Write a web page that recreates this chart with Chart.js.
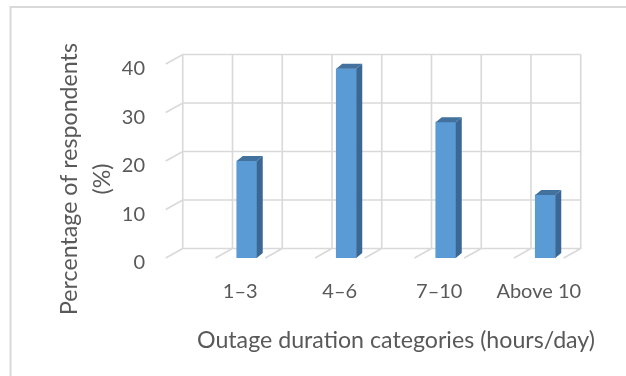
<!DOCTYPE html>
<html>
<head>
<meta charset="utf-8">
<script src="https://cdn.jsdelivr.net/npm/chart.js@4.4.0/dist/chart.umd.min.js"></script>
<style>
  body { margin: 0; background: #fff; }
  #wrap { width: 626px; height: 376px; }
</style>
</head>
<body>
<div id="wrap"><canvas id="myChart" width="626" height="376"></canvas></div>
<script>
// data
var categories = ['1–3', '4–6', '7–10', 'Above 10'];
var respondents = [20, 39, 28, 13];
var yTicks = [0, 10, 20, 30, 40];
var xTitle = 'Outage duration categories (hours/day)';
var yTitle = ['Percentage of respondents', '(%)'];

var gridColor = '#D9D9D9';
var textColor = '#595959';
var fontName = 'Lato';

// offset of the back wall from the front plane
var depthX = 17, depthY = -9.5;

// walls, floor and the frame round the chart
var wallsPlugin = {
    id: 'walls',
    beforeDraw: function(chart) {
        var ctx = chart.ctx;
        ctx.save();
        ctx.fillStyle = '#fff';
        ctx.fillRect(0, 0, chart.width, chart.height);
        ctx.strokeStyle = gridColor;
        ctx.lineWidth = 2;
        ctx.beginPath();
        ctx.moveTo(10.5, chart.height);
        ctx.lineTo(10.5, 7);
        ctx.lineTo(chart.width, 7);
        ctx.stroke();
        ctx.restore();
    },
    beforeDatasetsDraw: function(chart) {
        var ctx = chart.ctx;
        var x = chart.scales.x, y = chart.scales.y;
        var catW = x.getPixelForValue(1) - x.getPixelForValue(0);
        var left = x.getPixelForValue(0) - 64;
        var nCols = categories.length * 2;
        var right = left + nCols * catW / 2;
        var top = y.getPixelForValue(yTicks[yTicks.length - 1]) + depthY;
        var floor = y.getPixelForValue(0) + depthY;
        ctx.save();
        ctx.strokeStyle = gridColor;
        ctx.lineWidth = 1.6;
        ctx.beginPath();
        // horizontal lines on the back wall + side ticks
        yTicks.forEach(function(v) {
            var yb = y.getPixelForValue(v) + depthY;
            ctx.moveTo(left - depthX, yb - depthY);
            ctx.lineTo(left, yb);
            ctx.lineTo(right, yb);
        });
        // vertical lines on the back wall + floor diagonals
        for (var k = 0; k <= nCols; k++) {
            var xb = left + k * catW / 2;
            ctx.moveTo(xb, top);
            ctx.lineTo(xb, floor);
            ctx.lineTo(xb - depthX, floor - depthY);
        }
        ctx.stroke();
        ctx.restore();
    },
    afterDatasetsDraw: function(chart) {
        var ctx = chart.ctx;
        var dx = 6, dy = -5;
        ctx.save();
        chart.getDatasetMeta(0).data.forEach(function(bar) {
            var p = bar.getProps(['x', 'y', 'base', 'width'], true);
            var l = p.x - p.width / 2, r = p.x + p.width / 2;
            // right side
            ctx.fillStyle = '#3A6794';
            ctx.beginPath();
            ctx.moveTo(r, p.y);
            ctx.lineTo(r + dx, p.y + dy);
            ctx.lineTo(r + dx, p.base + dy);
            ctx.lineTo(r, p.base);
            ctx.closePath();
            ctx.fill();
            // top
            ctx.fillStyle = '#41719C';
            ctx.beginPath();
            ctx.moveTo(l, p.y);
            ctx.lineTo(l + dx, p.y + dy);
            ctx.lineTo(r + dx, p.y + dy);
            ctx.lineTo(r, p.y);
            ctx.closePath();
            ctx.fill();
        });
        ctx.restore();
    },
    afterDraw: function(chart) {
        // y axis title, two rotated lines
        var ctx = chart.ctx;
        ctx.save();
        ctx.translate(0, 179);
        ctx.rotate(-Math.PI / 2);
        ctx.fillStyle = textColor;
        ctx.font = '23.2px ' + fontName;
        ctx.textAlign = 'center';
        ctx.textBaseline = 'middle';
        ctx.fillText(yTitle[0], 0, 70);
        ctx.fillText(yTitle[1], 0, 103);
        ctx.restore();
    }
};

var ctx = document.getElementById('myChart').getContext('2d');
var myChart = new Chart(ctx, {
    type: 'bar',
    data: {
        labels: categories,
        datasets: [{
            label: 'Respondents',
            data: respondents,
            backgroundColor: '#5B9BD5',
            borderWidth: 0,
            barThickness: 20
        }]
    },
    options: {
        responsive: false,
        animation: false,
        devicePixelRatio: 1,
        layout: { padding: { top: 50, right: 31, left: 0, bottom: 0 } },
        plugins: { legend: { display: false }, tooltip: { enabled: false } },
        scales: {
            x: {
                grid: { display: false, drawTicks: false },
                border: { display: false },
                ticks: {
                    color: textColor,
                    font: { family: fontName, size: 20 },
                    padding: 22,
                    labelOffset: -6.5,
                    maxRotation: 0
                },
                title: {
                    display: true,
                    text: xTitle,
                    color: textColor,
                    font: { family: fontName, size: 23.4 },
                    padding: { top: 0, bottom: 22 }
                },
                afterFit: function(scale) { scale.height = 118; }
            },
            y: {
                min: 0,
                max: 40,
                grid: { display: false, drawTicks: false },
                border: { display: false },
                ticks: {
                    stepSize: 10,
                    color: textColor,
                    font: { family: fontName, size: 20 },
                    padding: 52,
                    labelOffset: 5
                },
                afterFit: function(scale) { scale.width = 197; }
            }
        }
    },
    plugins: [wallsPlugin]
});
</script>
</body>
</html>
